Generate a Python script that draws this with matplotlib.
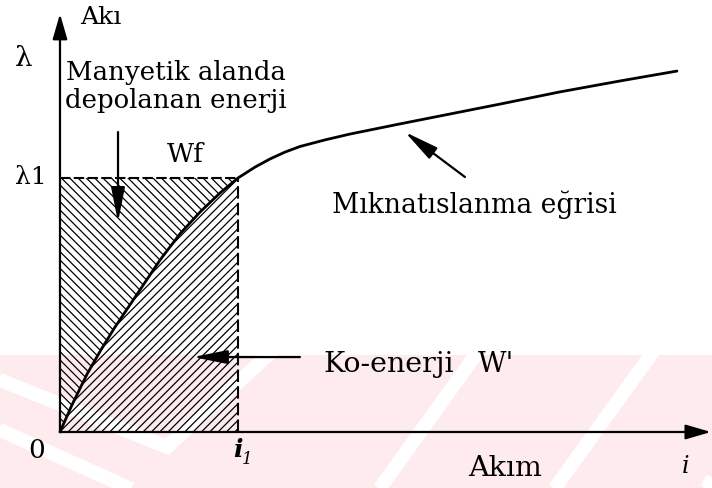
import matplotlib
matplotlib.use("Agg")
import matplotlib.pyplot as plt
from matplotlib.patches import Rectangle

# magnetisation curve, current normalised to i1 and flux linkage to lambda1
akim = [0.0, 0.067, 0.152, 0.230, 0.309, 0.449, 0.562, 0.674, 0.787, 0.899,
        1.0, 1.096, 1.180, 1.264, 1.348, 1.489, 1.629, 1.910, 2.191, 2.472,
        2.809, 3.146, 3.466]
aki = [0.0, 0.106, 0.228, 0.323, 0.413, 0.559, 0.677, 0.780, 0.866, 0.941,
       1.0, 1.043, 1.075, 1.102, 1.124, 1.150, 1.173, 1.213, 1.252, 1.291,
       1.339, 1.382, 1.421]
i1 = 1.0
lam1 = 1.0

FONT = "DejaVu Serif"
PINK = "#fdebee"

plt.rcParams["hatch.linewidth"] = 0.9
plt.rcParams["font.family"] = [FONT, "DejaVu Sans"]

fig = plt.figure(figsize=(7.12, 4.88), dpi=100)

# faint striped band along the bottom of the page
bg = fig.add_axes([0, 0, 1, 1], zorder=-1)
bg.set_xlim(0, 712)
bg.set_ylim(488, 0)
bg.axis("off")
band = Rectangle((0, 355), 712, 133, color=PINK, lw=0)
bg.add_patch(band)
stripes = [
    ([-20, 167, 290], [372, 447, 335]),
    ([-20, 160], [421, 502]),
    ([360, 490], [516, 335]),
    ([535, 665], [516, 335]),
    ([690, 800], [516, 335]),
]
for sx, sy in stripes:
    ln, = bg.plot(sx, sy, color="white", lw=10, solid_capstyle="butt",
                  solid_joinstyle="miter")
    ln.set_clip_path(band)

ax = fig.add_axes([0, 0, 1, 1])
ax.set_xlim(-0.337, 3.663)
ax.set_ylim(-0.2205, 1.7008)
ax.axis("off")
ax.patch.set_alpha(0)

# hatched energy regions
n = akim.index(i1) + 1
ax.fill_between(akim[:n], aki[:n], lam1, facecolor="none", edgecolor="black",
                hatch="\\\\\\\\", lw=0)
ax.fill_between(akim[:n], 0, aki[:n], facecolor="none", edgecolor="black",
                hatch="////", lw=0)

# dashed box at (i1, lambda1)
ax.plot([0, i1], [lam1, lam1], color="black", lw=1.5, ls=(0, (5, 1.6)))
ax.plot([i1, i1], [0, lam1], color="black", lw=1.5, ls=(0, (6, 2)))

ax.plot(akim, aki, color="black", lw=2.0, solid_capstyle="round",
        solid_joinstyle="round")

# axes with arrow heads
axis_arrow = dict(arrowstyle="-|>,head_length=1.1,head_width=0.32",
                  mutation_scale=14, lw=1.6, color="black",
                  shrinkA=0, shrinkB=0)
ax.annotate("", xy=(0, 1.646), xytext=(0, 0), arrowprops=axis_arrow)
ax.annotate("", xy=(3.657, 0), xytext=(0, 0), arrowprops=axis_arrow)

pointer = dict(arrowstyle="-|>,head_length=1.5,head_width=0.3",
               mutation_scale=14, lw=1.6, color="black",
               shrinkA=0, shrinkB=0)
ax.annotate("", xy=(0.326, 0.827), xytext=(0.326, 1.181), arrowprops=pointer)
ax.annotate("", xy=(1.938, 1.181), xytext=(2.275, 1.004), arrowprops=pointer)
ax.annotate("", xy=(0.747, 0.295), xytext=(1.348, 0.295), arrowprops=pointer)

kw = dict(ha="left", va="baseline", family=FONT, color="black")
ax.text(0.112, 1.606, "Akı", fontsize=18, **kw)
ax.text(-0.202, 1.469, "λ", ha="center", va="center", fontsize=20, family=FONT)
ax.text(0.034, 1.386, "Manyetik alanda", fontsize=18.7, **kw)
ax.text(0.028, 1.276, "depolanan enerji", fontsize=18.7, **kw)
ax.text(0.601, 1.063, "Wf", fontsize=19, **kw)
ax.text(-0.253, lam1, "λ1", ha="left", va="center", fontsize=18, family=FONT)
ax.text(1.528, 0.862, "Mıknatıslanma eğrisi", fontsize=19.1, **kw)
ax.text(1.477, 0.236, "Ko-enerji", fontsize=20.5, **kw)
ax.text(2.348, 0.236, "W'", fontsize=20, **kw)
ax.text(-0.129, -0.071, "0", ha="center", va="center", fontsize=19, family=FONT)
ax.text(i1, -0.071, "i", ha="center", va="center", fontsize=18,
        family=FONT, weight="bold", style="italic")
ax.text(i1 + 0.05, -0.11, "1", ha="center", va="center", fontsize=12,
        family=FONT, style="italic")
ax.text(2.292, -0.173, "Akım", fontsize=20.5, **kw)
ax.text(3.517, -0.134, "i", ha="center", va="center", fontsize=17,
        family=FONT, style="italic")

fig.savefig("out.png", dpi=100)
